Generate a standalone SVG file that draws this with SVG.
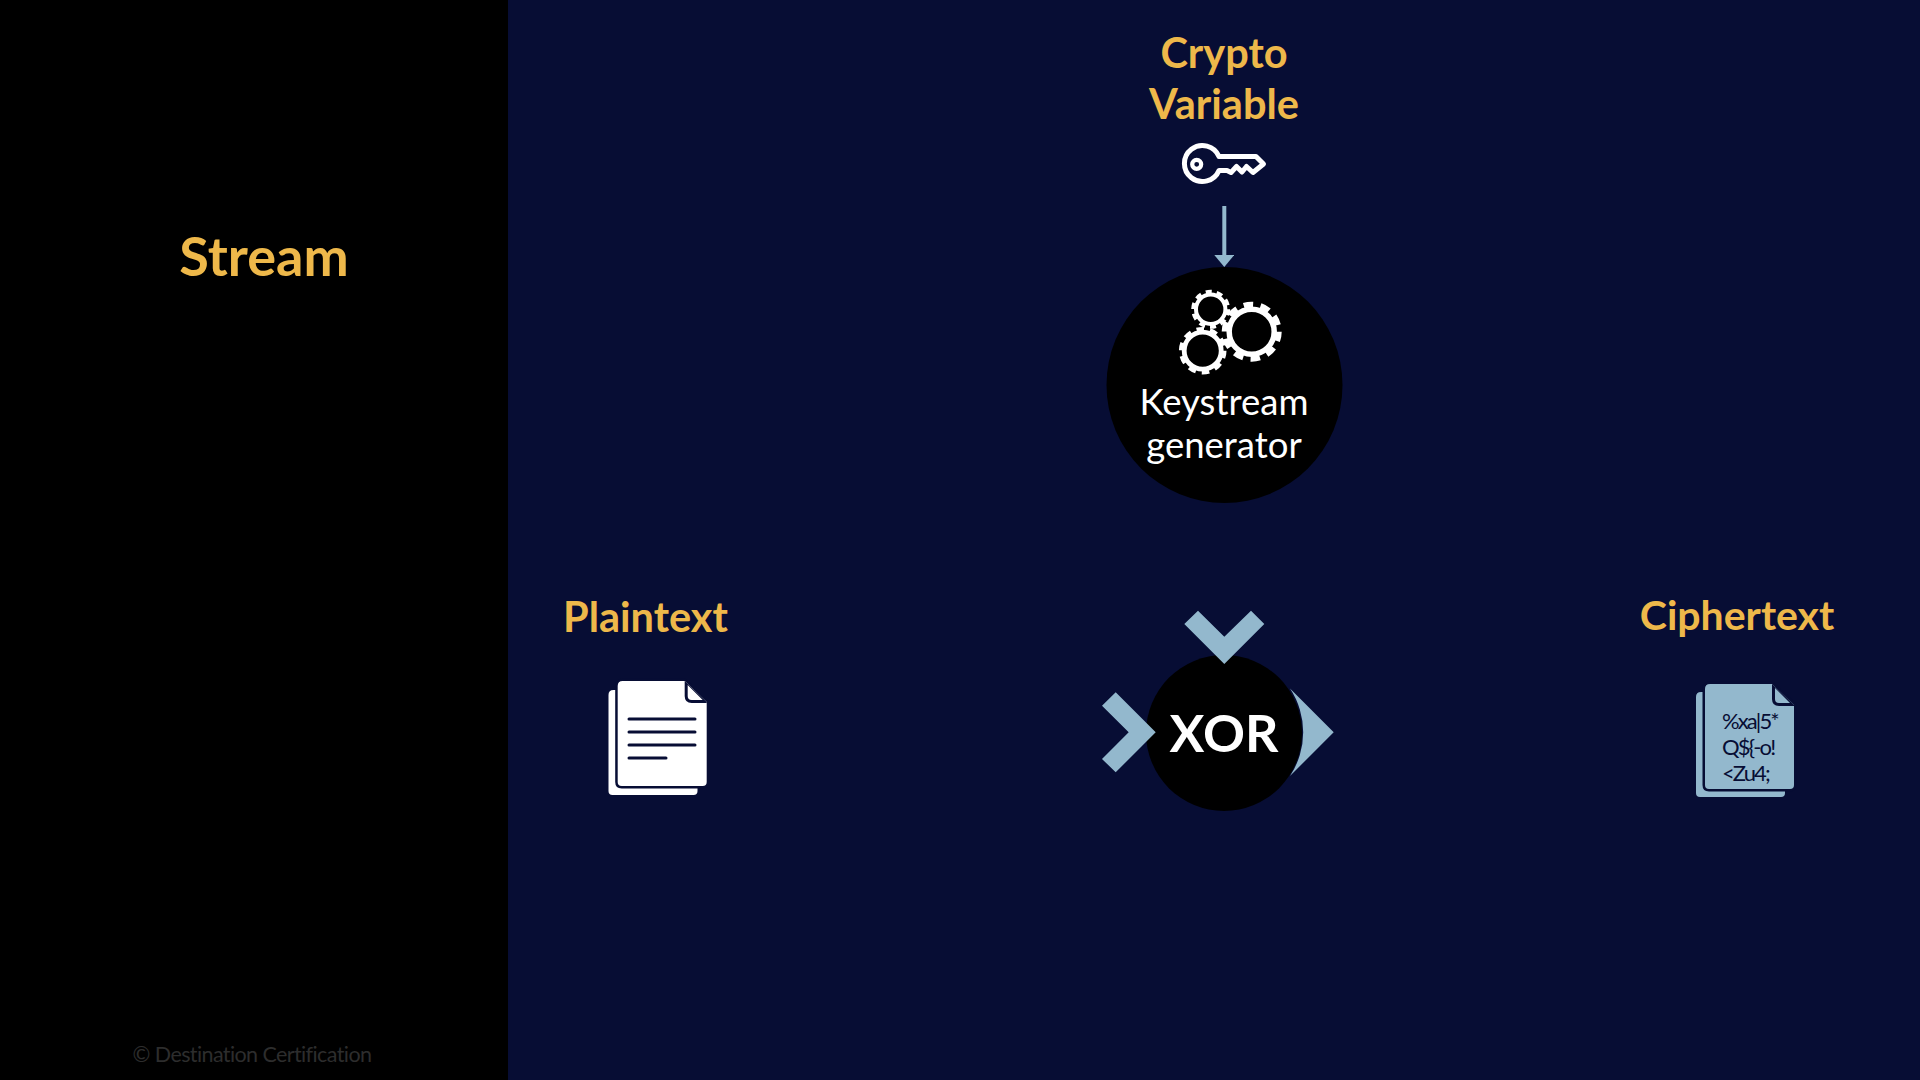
<svg xmlns="http://www.w3.org/2000/svg" width="1920" height="1080" viewBox="0 0 1920 1080">
<style>
text{font-family:Lato,"Liberation Sans",sans-serif;text-anchor:middle}
.gold{fill:#EEB84A;font-weight:700;font-size:41.500px}
.white{fill:#fff;font-size:36.500px}
.blue{fill:#93B8CD}
.sheetw{fill:#fff}
.gap{stroke:#070D34;stroke-width:5;stroke-linejoin:round;paint-order:stroke}
.ln{stroke:#070D34;stroke-width:3;stroke-linecap:round}
.ct{fill:#070D34;font-size:22px;letter-spacing:-1.900px;text-anchor:start}
.ring{fill:none;stroke:#fff}
</style>
<defs>
<marker id="ah" markerUnits="userSpaceOnUse" markerWidth="12" markerHeight="20" refX="0" refY="10" orient="auto"><path d="M0,0V20L12,10Z" fill="#93B8CD"/></marker>
<path id="sheet" d="M0,5Q0,0 5,0H67L89,21V101Q89,105 85,105H4Q0,105 0,101Z"/>
<path id="fold" d="M67,0V15Q67,22 74,22H89V21L67,0Z"/>
</defs>
<rect width="1920" height="1080" fill="#070D34"/>
<rect id="panel" width="508" height="1080" fill="#000"/>
<g id="title"><text x="264" y="276" style="font-size:54px" class="gold">Stream</text></g>
<g id="copyright"><text x="252" y="1062" style="font-size:21.500px;fill:#2D2D2D;letter-spacing:-.6px">© Destination Certification</text></g>
<g id="crypto-variable">
<text x="1224" y="68" class="gold">Crypto</text>
<text x="1224" y="119" class="gold">Variable</text>
<path d="M1219,156.500H1256L1263.500,164L1253,172.500L1246.500,166.500L1242,172L1236.500,166.500L1231,172.500L1227,170.500H1219A18,18 0 1 1 1219,156.500Z" fill="none" stroke="#fff" stroke-width="5" stroke-linejoin="round"/>
<circle cx="1196.700" cy="164.300" r="4.500" fill="none" stroke="#fff" stroke-width="4.200"/>
</g>
<g id="keystream-generator">
<circle cx="1224.500" cy="385" r="118" fill="#000"/>
<g>
<circle class="ring" cx="1251.700" cy="331.700" r="22.500" stroke-width="5.500"/>
<circle class="ring" cx="1251.700" cy="331.700" r="27" stroke-width="6" stroke-dasharray="9.500 7.460"/>
<circle class="ring" cx="1210.700" cy="309.300" r="14.700" stroke-width="4"/>
<circle class="ring" cx="1210.700" cy="309.300" r="17.500" stroke-width="4" stroke-dasharray="6 5"/>
<circle class="ring" cx="1202.700" cy="350.700" r="18.500" stroke-width="4.800"/>
<circle class="ring" cx="1202.700" cy="350.700" r="21.500" stroke-width="4.600" stroke-dasharray="7.500 6"/>
</g>
<text x="1224" y="414.500" class="white">Keystream</text>
<text x="1224" y="458" class="white">generator</text>
</g>
<g id="plaintext">
<text x="645.500" y="631.500" class="gold">Plaintext</text>
<g transform="translate(608.500,690)"><use href="#sheet" class="sheetw"/></g>
<g transform="translate(617.700,681)"><use href="#sheet" class="sheetw gap"/><use href="#fold" fill="#070D34"/>
<path d="M70,4V15Q70,19 74,19H85Z" fill="#fff"/></g>
<path class="ln" d="M629,719H695M629,732H695M629,745H695M629,758H666"/>
</g>
<g id="xor">
<circle cx="1224" cy="733" r="78" fill="#000"/>
<text x="1224" y="752" style="font-size:52px;font-weight:700;fill:#fff">XOR</text>
</g>
<g id="ciphertext">
<text x="1737" y="630" style="font-size:41px" class="gold">Ciphertext</text>
<g transform="translate(1696,692)"><use href="#sheet" class="blue"/></g>
<g transform="translate(1705,684)"><use href="#sheet" class="blue gap"/><use href="#fold" fill="#070D34"/>
<path d="M70,4V15Q70,19 74,19H85Z" class="blue"/></g>
<text x="1722" y="729" class="ct">%xa|5*</text>
<text x="1722" y="755" class="ct">Q${-o!</text>
<text x="1722" y="781" class="ct">&lt;Zu4;</text>
</g>
<g id="connectors">
<line x1="1224.300" y1="206" x2="1224.300" y2="255" stroke="#93B8CD" stroke-width="4" marker-end="url(#ah)"/>
<polygon class="blue" points="1184.300,624 1198,610.700 1224.300,636.700 1251,610.700 1264.300,624 1224.300,664"/>
<polygon class="blue" points="1102,705.700 1115.700,692.300 1155.700,732.300 1115.700,772.300 1102,759 1128.700,732.300"/>
<path class="blue" d="M1290,688.600L1333.700,732.300L1290,776A79,79 0 0 0 1290,688.600Z"/>
</g>
</svg>
